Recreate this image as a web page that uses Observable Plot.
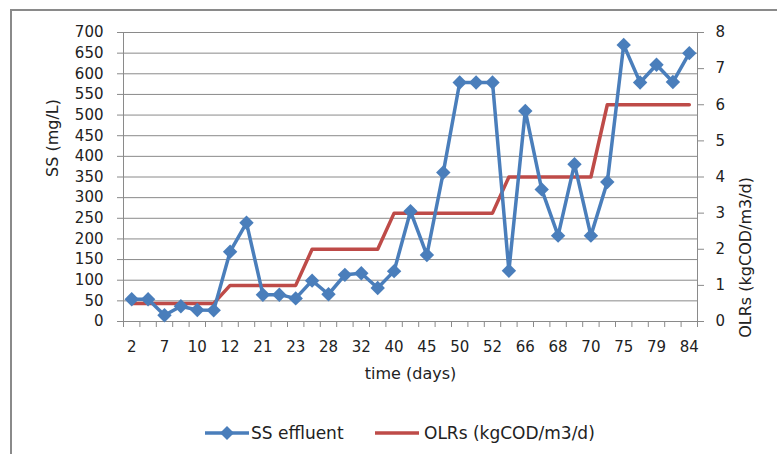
<!DOCTYPE html>
<html>
<head>
<meta charset="utf-8">
<script src="https://cdn.jsdelivr.net/npm/d3@7"></script>
<script src="https://cdn.jsdelivr.net/npm/@observablehq/plot@0.6"></script>
<style>
  html, body { margin: 0; padding: 0; background: #fff; overflow: hidden; }
  #wrap { position: relative; width: 777px; height: 454px; font-family: "DejaVu Sans", sans-serif; }
  #frame { position: absolute; left: 10px; top: 9px; width: 900px; height: 600px; border-top: 2px solid #8a8a8a; border-left: 2px solid #8a8a8a; box-sizing: border-box; }
  #chart { position: absolute; left: 0; top: 0; }
  #legend { position: absolute; left: 0; top: 418px; width: 777px; height: 30px; font-size: 17px; color: #222; }
  .item { position: absolute; top: 0; display: flex; align-items: center; height: 30px; }
</style>
</head>
<body>
<div id="wrap">
  <div id="frame"></div>
  <div id="chart"></div>
  <div id="legend">
    <div class="item" style="left:205px">
      <svg width="44" height="16"><line x1="0" y1="8" x2="44" y2="8" stroke="#4A7EBB" stroke-width="3.5"/><path d="M22,1 L29,8 L22,15 L15,8 Z" fill="#4A7EBB"/></svg>
      <span style="margin-left:2px">SS effluent</span>
    </div>
    <div class="item" style="left:375px">
      <svg width="44" height="16"><line x1="0" y1="8" x2="44" y2="8" stroke="#BE4B48" stroke-width="3.5"/></svg>
      <span style="margin-left:5px">OLRs (kgCOD/m3/d)</span>
    </div>
  </div>
</div>
<script>
// Tick labels shown on the x axis (every other sampling point)
const dayLabels = [2, 7, 10, 12, 21, 23, 28, 32, 40, 45, 50, 52, 66, 68, 70, 75, 79, 84];
// SS effluent (mg/L) at each of the 35 sampling points
const ssEffluent = [54, 54, 15, 37, 28, 27, 169, 239, 65, 65, 56, 99, 66, 113, 117, 81, 122, 267, 161, 361,
  579, 579, 579, 123, 510, 320, 208, 381, 208, 338, 670, 579, 622, 580, 650];
// Organic loading rates (kgCOD/m3/d) at each sampling point
const olrs = [0.5, 0.5, 0.5, 0.5, 0.5, 0.5, 1, 1, 1, 1, 1, 2, 2, 2, 2, 2, 3, 3, 3, 3,
  3, 3, 3, 4, 4, 4, 4, 4, 4, 6, 6, 6, 6, 6, 6];
const leftMax = 700, rightMax = 8;
const k = leftMax / rightMax;

const data = ssEffluent.map((v, i) => ({i, ss: v, olr: olrs[i]}));
const gray = "#8a8a8a";
const blue = "#4A7EBB";
const red = "#BE4B48";

const chart = Plot.plot({
  width: 777,
  height: 410,
  marginLeft: 123,
  marginRight: 80,
  marginTop: 32,
  marginBottom: 89,
  style: {fontFamily: "DejaVu Sans, sans-serif", fontSize: "15px", color: "#222", background: "transparent"},
  x: {type: "linear", domain: [-0.5, ssEffluent.length - 0.5]},
  y: {domain: [0, leftMax]},
  marks: [
    Plot.gridY(d3.range(0, leftMax + 1, 50), {stroke: gray, strokeOpacity: 1, strokeWidth: 1}),
    Plot.ruleX([-0.5], {stroke: gray, strokeWidth: 1}),
    Plot.ruleX([ssEffluent.length - 0.5], {stroke: gray, strokeWidth: 1}),
    Plot.ruleY([0], {stroke: gray, strokeWidth: 1}),
    Plot.axisY(d3.range(0, leftMax + 1, 50), {anchor: "left", tickSize: 6, tickPadding: 14, stroke: gray, label: null, fontSize: 15}),
    Plot.axisY(d3.range(0, rightMax + 1).map(v => v * k), {anchor: "right", tickSize: 6, tickPadding: 12, stroke: gray, label: null, tickFormat: d => Math.round(d / k), fontSize: 15}),
    Plot.axisX(d3.range(-0.5, ssEffluent.length, 1), {anchor: "bottom", tickSize: 6, stroke: gray, tickFormat: () => "", label: null}),
    Plot.axisX(d3.range(0, ssEffluent.length, 2), {anchor: "bottom", tickSize: 0, tickPadding: 20, tickFormat: i => dayLabels[i / 2], label: null, fontSize: 15}),
    Plot.text(["SS (mg/L)"], {frameAnchor: "left", dx: -71, rotate: -90, fontSize: 16}),
    Plot.text(["OLRs (kgCOD/m3/d)"], {frameAnchor: "right", dx: 48, rotate: -90, fontSize: 16}),
    Plot.text(["time (days)"], {frameAnchor: "bottom", dy: 57, fontSize: 16}),
    Plot.line(data, {x: "i", y: d => d.olr * k, stroke: red, strokeWidth: 3.5, curve: "linear"}),
    Plot.line(data, {x: "i", y: "ss", stroke: blue, strokeWidth: 3.5}),
    Plot.dot(data, {x: "i", y: "ss", symbol: "diamond2", r: 6.5, fill: blue, stroke: "none"})
  ]
});
document.getElementById("chart").appendChild(chart);
</script>
</body>
</html>
